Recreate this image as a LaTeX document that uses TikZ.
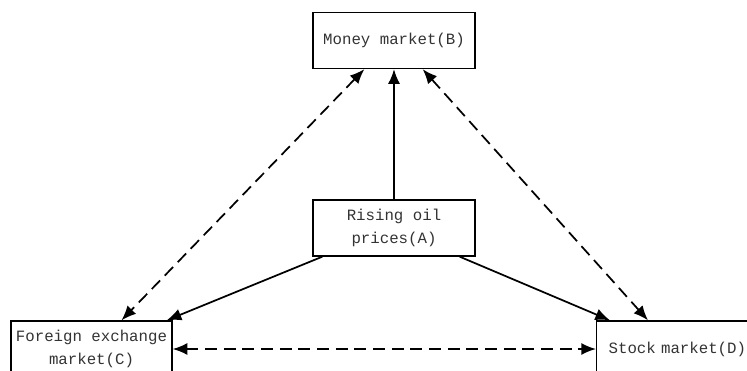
\documentclass[tikz,border=0pt]{standalone}
\usepackage{fontspec}
\setmonofont{Liberation Mono}
\usetikzlibrary{calc, arrows.meta}
\tikzstyle{market}=[draw, line width=1pt, font=\ttfamily\fontsize{11.8}{17}\selectfont, text=black!80, align=center, inner sep=0pt, minimum height=42pt]
\tikzstyle{effect}=[-{Latex[length=11pt,width=9pt]}, line width=1.3pt]
\tikzstyle{spill}=[{Latex[length=11pt,width=9pt]}-{Latex[length=11pt,width=9pt]}, line width=1.3pt, dash pattern=on 9pt off 5pt]

\begin{document}
\begin{tikzpicture}[x=0.75pt, y=-0.75pt]
		\useasboundingbox (0,0) rectangle (747,371);
		\clip (0,0) rectangle (747,371);

		\node[market, minimum width=121.5pt] (B) at (394,40.5) {Money market(B)};
		\node[market, minimum width=121.5pt] (A) at (394,228) {Rising oil\\prices(A)};
		\node[market, minimum width=120.75pt] (C) at (91.5,349) {Foreign exchange\\market(C)};
		\node[market, anchor=west, align=left, text width=112.5pt, inner xsep=9pt] (D) at (596,349) {Stock market(D)};

		\draw[effect] (A.north) -- (B.south);
		\draw[effect] ($(A.south west)+(10,0)$) -- ($(C.north east)+(-6,0)$);
		\draw[effect] ($(A.south east)+(-16,0)$) -- ($(D.north west)+(14,0)$);

		\draw[spill] ($(B.south west)+(52,0)$) -- ($(C.north)+(30,0)$);
		\draw[spill] ($(B.south east)+(-53,0)$) -- ($(D.north west)+(52,0)$);
		\draw[spill] (C.east) -- (D.west);
	\end{tikzpicture}
\end{document}
